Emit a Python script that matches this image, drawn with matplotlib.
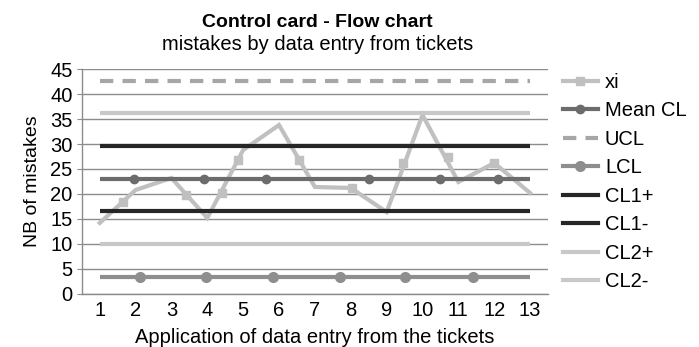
import numpy as np
import matplotlib.pyplot as plt
from matplotlib.lines import Line2D

plt.rcParams['font.family'] = ['Liberation Sans', 'DejaVu Sans']

# Data
samples = np.arange(1, 14)
xi = [14.2, 20.8, 23.2, 15.2, 28.8, 33.8, 21.4, 21.2, 16.4, 35.8, 22.4, 26.2, 20.2]

# control limits (mean +/- 1, 2, 3 sigma)
mean_cl = 23.05
ucl = 42.7
lcl = 3.4
cl1_plus = 29.6
cl1_minus = 16.5
cl2_plus = 36.15
cl2_minus = 9.95

# marker positions as they appear in the picture (not on the sample points)
xi_mark_x = [1.64, 3.4, 4.4, 4.85, 6.55, 8.03, 9.46, 10.7, 12.0]
xi_mark_y = [18.4, 19.8, 20.2, 26.8, 26.8, 21.2, 26.2, 27.4, 26.2]
mean_mark_x = [1.95, 3.9, 5.63, 8.5, 10.5, 12.1]
lcl_mark_x = [2.12, 3.96, 5.83, 7.7, 9.5, 11.4]

c_xi = '#c0c0c0'
c_mean = '#6c6c6c'
c_ucl = '#a6a6a6'
c_lcl = '#8e8e8e'
c_cl1 = '#262626'
c_cl2 = '#c8c8c8'
lw = 3.0
fs = 14.5

fig = plt.figure(figsize=(6.99, 3.47), dpi=100)
ax = fig.add_axes([0.117, 0.153, 0.667, 0.648])

# xi series
ax.plot(samples, xi, color=c_xi, lw=lw, solid_joinstyle='miter', zorder=2)
ax.plot(xi_mark_x, xi_mark_y, 's', color=c_xi, ms=6, zorder=2)

def hline(value, color, z=3):
    ax.plot(samples, [value] * len(samples), color=color, lw=lw,
            solid_capstyle='butt', zorder=z)

hline(mean_cl, c_mean)
ax.plot(mean_mark_x, [mean_cl] * len(mean_mark_x), 'o', color=c_mean, ms=6, zorder=3)
ax.plot(samples, [ucl] * len(samples), color=c_ucl, lw=lw, dashes=(3.2, 2.2),
        dash_capstyle='butt', zorder=3)
hline(lcl, c_lcl)
ax.plot(lcl_mark_x, [lcl] * len(lcl_mark_x), 'o', color=c_lcl, ms=7, zorder=3)
hline(cl1_plus, c_cl1)
hline(cl1_minus, c_cl1)
hline(cl2_plus, c_cl2)
hline(cl2_minus, c_cl2)

# axes styling
ax.set_xlim(0.5, 13.5)
ax.set_ylim(0, 45)
ax.set_xticks(samples)
ax.set_yticks(np.arange(0, 46, 5))
ax.grid(axis='y', color='#8c8c8c', lw=1.0, zorder=0)
ax.set_axisbelow(True)
for s in ['top', 'right']:
    ax.spines[s].set_visible(False)
for s in ['left', 'bottom']:
    ax.spines[s].set_color('#8c8c8c')
    ax.spines[s].set_linewidth(1.0)
ax.tick_params(axis='y', length=3.6, color='#8c8c8c', labelsize=fs, pad=3)
ax.tick_params(axis='x', length=0, labelsize=fs, pad=5)

ax.set_xlabel('Application of data entry from the tickets', fontsize=fs, labelpad=6)
ax.set_ylabel('NB of mistakes', fontsize=14, labelpad=7)

fig.text(0.454, 0.934, 'Control card - Flow chart', ha='center', va='center',
         fontsize=14, fontweight='bold')
fig.text(0.454, 0.872, 'mistakes by data entry from tickets', ha='center',
         va='center', fontsize=fs)

handles = [
    Line2D([], [], color=c_xi, lw=lw, marker='s', ms=6),
    Line2D([], [], color=c_mean, lw=lw, marker='o', ms=6),
    Line2D([], [], color=c_ucl, lw=lw, dashes=(3.2, 2.2)),
    Line2D([], [], color=c_lcl, lw=lw, marker='o', ms=7),
    Line2D([], [], color=c_cl1, lw=lw),
    Line2D([], [], color=c_cl1, lw=lw),
    Line2D([], [], color=c_cl2, lw=lw),
    Line2D([], [], color=c_cl2, lw=lw),
]
labels = ['xi', 'Mean CL', 'UCL', 'LCL', 'CL1+', 'CL1-', 'CL2+', 'CL2-']
fig.legend(handles, labels, loc='upper left', bbox_to_anchor=(0.805, 0.79),
           frameon=False, fontsize=fs, handlelength=1.75, handletextpad=0.35,
           labelspacing=0.47, numpoints=1, borderaxespad=0, borderpad=0)

fig.savefig('out.png', dpi=100)
